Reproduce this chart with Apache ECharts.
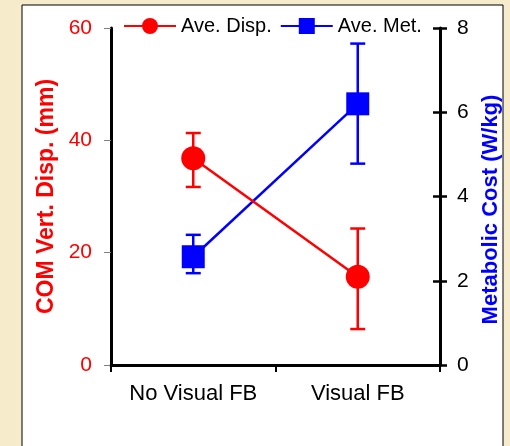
<!DOCTYPE html>
<html><head><meta charset="utf-8">
<script src="https://cdn.jsdelivr.net/npm/echarts@6/dist/echarts.min.js"></script>
<style>html,body{margin:0;padding:0;background:#F6EBCB;}#c{width:510px;height:446px;}</style>
</head><body><div id="c"></div>
<script>
const categories = ['No Visual FB', 'Visual FB'];
const dispMean = [36.8, 15.7];
const dispLow = [31.7, 6.4];
const dispHigh = [41.3, 24.3];
const metMean = [2.57, 6.2];
const metLow = [2.18, 4.78];
const metHigh = [3.09, 7.63];
const leftTicks = [0, 20, 40, 60];
const rightTicks = [0, 2, 4, 6, 8];

const FONT = 'Arial, "Liberation Sans", sans-serif';
const chart = echarts.init(document.getElementById('c'));

function errSeries(name, yIndex, low, high, color) {
  return {
    name: name, type: 'custom', yAxisIndex: yIndex, z: 3,
    data: categories.map((c, i) => [i, low[i], high[i]]),
    renderItem: function (params, api) {
      const lo = api.coord([api.value(0), api.value(1)]);
      const hi = api.coord([api.value(0), api.value(2)]);
      const w = 7.5;
      const st = { stroke: color, lineWidth: 2.5 };
      return { type: 'group', children: [
        { type: 'line', shape: { x1: hi[0], y1: hi[1], x2: lo[0], y2: lo[1] }, style: st },
        { type: 'line', shape: { x1: hi[0] - w, y1: hi[1], x2: hi[0] + w, y2: hi[1] }, style: st },
        { type: 'line', shape: { x1: lo[0] - w, y1: lo[1], x2: lo[0] + w, y2: lo[1] }, style: st }
      ]};
    }
  };
}

chart.setOption({
  animation: false,
  backgroundColor: 'transparent',
  graphic: [{ type: 'rect', z: -10, shape: { x: 22, y: 5, width: 481, height: 460 },
    style: { fill: '#ffffff', stroke: '#000000', lineWidth: 1 } }],
  grid: { left: 111, right: 70, top: 28, bottom: 81 },
  legend: {
    left: 123, top: 16, padding: 0, itemWidth: 52, itemHeight: 20, itemGap: 8,
    textStyle: { fontFamily: FONT, fontSize: 20, color: '#000' },
    data: [
      { name: 'Ave. Disp.', itemStyle: { color: '#ff0000' } },
      { name: 'Ave. Met.', itemStyle: { color: '#0000ff' } }
    ]
  },
  xAxis: {
    type: 'category', data: categories, boundaryGap: true,
    axisLine: { lineStyle: { color: '#000', width: 3 } },
    axisTick: { show: true, length: 7, lineStyle: { color: '#000', width: 2 } },
    axisLabel: { fontFamily: FONT, fontSize: 22, color: '#000', margin: 18, interval: 0, hideOverlap: false }
  },
  yAxis: [
    {
      type: 'value', min: 0, max: 60, interval: 20, position: 'left',
      name: 'COM Vert. Disp. (mm)', nameLocation: 'middle', nameGap: 52, nameRotate: 90,
      nameTextStyle: { fontFamily: FONT, fontSize: 23, fontWeight: 'bold', color: '#ff0000' },
      splitLine: { show: false },
      axisLine: { show: true, lineStyle: { color: '#000', width: 3 } },
      axisTick: { show: true, length: 7, lineStyle: { color: '#808080', width: 1 } },
      axisLabel: { fontFamily: FONT, fontSize: 21, color: '#ff0000', margin: 19,
        formatter: v => leftTicks.includes(v) ? String(v) : '' }
    },
    {
      type: 'value', min: 0, max: 8, interval: 2, position: 'right',
      name: 'Metabolic Cost (W/kg)', nameLocation: 'middle', nameGap: 32, nameRotate: 90,
      nameTextStyle: { fontFamily: FONT, fontSize: 22, fontWeight: 'bold', color: '#0000ff', padding: [0, 26, 0, 0] },
      splitLine: { show: false },
      axisLine: { show: true, lineStyle: { color: '#000', width: 3 } },
      axisTick: { show: true, length: 7, lineStyle: { color: '#000', width: 2.5 } },
      axisLabel: { fontFamily: FONT, fontSize: 21, color: '#000', margin: 17,
        formatter: v => rightTicks.includes(v) ? String(v) : '' }
    },
    {
      type: 'value', min: 0, max: 8, interval: 2, position: 'right',
      splitLine: { show: false },
      axisLine: { show: false },
      axisTick: { show: true, inside: true, length: 7, lineStyle: { color: '#000', width: 2.5 } },
      axisLabel: { show: false }
    }
  ],
  series: [
    {
      name: 'Ave. Met.', type: 'line', yAxisIndex: 1, z: 4, data: metMean,
      symbol: 'rect', symbolSize: 23,
      lineStyle: { color: '#0000ff', width: 2.5 }, itemStyle: { color: '#0000ff' }
    },
    {
      name: 'Ave. Disp.', type: 'line', yAxisIndex: 0, z: 5, data: dispMean,
      symbol: 'circle', symbolSize: 24,
      lineStyle: { color: '#ff0000', width: 2.5 }, itemStyle: { color: '#ff0000' }
    },
    errSeries('Met. error', 1, metLow, metHigh, '#0000ff'),
    errSeries('Disp. error', 0, dispLow, dispHigh, '#ff0000')
  ]
});
</script></body></html>
